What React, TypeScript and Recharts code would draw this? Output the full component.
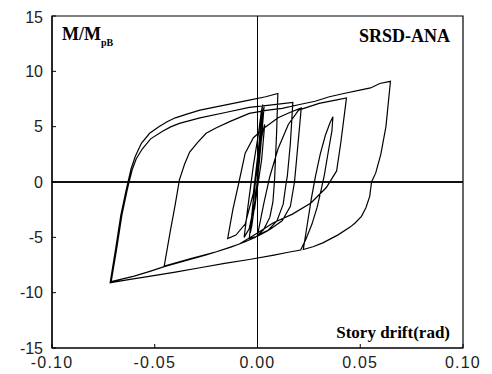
import React from 'react'
import { LineChart, Line, XAxis, YAxis, ReferenceLine, ReferenceArea } from 'recharts'

// [story drift (rad), M/Mpb] pairs, branch by branch, in loading order
type Pt = [number, number]

const smallCycles: Pt[] = [
  [0, 0], [0.001, 2.4], [0.002, 4.6], [0.0025, 5.4], [0.001, 2.0], [-0.001, -1.6],
  [-0.0028, -4.0], [-0.0035, -4.6], [-0.002, -1.5], [0.0, 1.5], [0.0015, 4.5],
  [0.0028, 6.4], [0.0032, 6.8], [0.0015, 3.0], [-0.001, -1.5], [-0.004, -4.2],
  [-0.0065, -5.0], [-0.0045, -2.0], [-0.002, 1.5], [0.0005, 4.4], [0.0018, 6.3],
  [0.0025, 7.0],
]

const firstExcursion: Pt[] = [
  [0.0005, 3.0], [-0.002, -1.0], [-0.006, -3.8], [-0.0105, -4.8], [-0.0145, -5.1],
  [-0.012, -2.5], [-0.009, 0], [-0.006, 2.6], [-0.002, 4.0], [0.0034, 4.9],
  [0.01, 5.8], [0.016, 6.3], [0.0213, 6.7], [0.019, 2.0], [0.018, 0], [0.016, -2.2],
  [0.012, -3.5], [0.006, -4.3], [0.0, -4.8], [0.003, -2.0], [0.006, 0.5], [0.01, 3.0],
  [0.015, 5.2], [0.02, 6.5], [0.03, 7.1], [0.038, 7.4], [0.0433, 7.6],
]

const toMidNegPeak: Pt[] = [
  [0.0405, 3.5], [0.0385, 1.0], [0.0335, -0.5], [0.026, -1.9], [0.017, -2.9],
  [0.0075, -3.7], [0.0, -4.6], [-0.0088, -5.6], [-0.02, -6.3], [-0.032, -6.9],
  [-0.0454, -7.6],
]

const toPosPeak: Pt[] = [
  [-0.0425, -4.5], [-0.04, -2.0], [-0.038, 0.2], [-0.0355, 1.6], [-0.033, 2.7],
  [-0.029, 3.6], [-0.025, 4.4], [-0.02, 4.9], [-0.013, 5.5], [-0.004, 6.2],
  [0.005, 6.5], [0.012, 6.65], [0.0205, 7.0], [0.028, 7.3], [0.035, 7.7],
  [0.042, 8.0], [0.0498, 8.3], [0.055, 8.5], [0.0595, 8.9], [0.0647, 9.1],
]

const fromPosPeak: Pt[] = [
  [0.0625, 5.0], [0.06, 2.5], [0.0575, 0.8], [0.0555, 0], [0.0546, -1.3],
  [0.0528, -2.3], [0.0506, -3.1], [0.0475, -3.7], [0.0449, -4.1], [0.039, -4.8],
  [0.0318, -5.5], [0.027, -5.85], [0.0223, -6.1],
]

const leafAndBigNeg: Pt[] = [
  [0.0245, -3.5], [0.0262, -1.5], [0.0282, 0.5], [0.0305, 2.5], [0.033, 4.2],
  [0.0352, 5.3], [0.0367, 5.9], [0.0362, 4.6], [0.0345, 2.8], [0.0325, 0.6],
  [0.031, -0.7], [0.029, -2.3], [0.0265, -3.8], [0.0235, -5.2], [0.021, -6.15],
  [0.015, -6.35], [0.008, -6.6], [-0.004, -7.0], [-0.016, -7.35], [-0.028, -7.75],
  [-0.04, -8.15], [-0.052, -8.5], [-0.062, -8.8], [-0.0717, -9.1],
]

const reload1: Pt[] = [
  [-0.069, -6.0], [-0.0665, -3.0], [-0.064, -0.8], [-0.063, 0], [-0.0615, 1.2],
  [-0.0595, 2.3], [-0.0565, 3.5], [-0.0525, 4.4], [-0.048, 5.0], [-0.044, 5.45],
  [-0.04, 5.8], [-0.034, 6.15], [-0.028, 6.5], [-0.016, 6.95], [-0.004, 7.4],
  [0.004, 7.7], [0.0099, 8.0],
]

const unload1: Pt[] = [
  [0.0093, 4.5], [0.0085, 1.0], [0.0083, 0.2], [0.0075, -1.8], [0.006, -3.2],
  [0.003, -4.3], [-0.001, -5.0], [-0.006, -5.4], [-0.013, -5.9], [-0.025, -6.6],
  [-0.035, -7.1], [-0.0454, -7.65], [-0.052, -8.05], [-0.06, -8.5], [-0.0712, -9.0],
]

const reload2: Pt[] = [
  [-0.0685, -6.0], [-0.066, -3.0], [-0.0635, -0.8], [-0.0625, 0], [-0.061, 1.1],
  [-0.059, 2.1], [-0.056, 3.0], [-0.052, 3.9], [-0.046, 4.6], [-0.042, 5.0],
  [-0.038, 5.3], [-0.028, 5.8], [-0.015, 6.3], [-0.004, 6.75], [0.006, 6.95],
  [0.0172, 7.2],
]

const tail: Pt[] = [
  [0.016, 3.5], [0.0145, 0.5], [0.014, 0], [0.0125, -2.0], [0.0095, -3.5],
  [0.005, -4.4], [0.0, -4.9], [-0.004, -5.1], [-0.0025, -2.5], [-0.001, 0],
  [0.001, 2.8], [0.0025, 4.5], [0.0035, 5.2], [0.002, 2.0], [0.0, -0.5],
  [-0.0015, -2.5], [-0.001, -1.0], [0.0, 0],
]

const history: Pt[] = [
  ...smallCycles, ...firstExcursion, ...toMidNegPeak, ...toPosPeak, ...fromPosPeak,
  ...leafAndBigNeg, ...reload1, ...unload1, ...reload2, ...tail,
]

const xTicks = [-0.1, -0.05, 0, 0.05, 0.1]
const yTicks = [-15, -10, -5, 0, 5, 10, 15]

const data = history.map(([x, y]) => ({ drift: x, moment: y }))

const tickStyle = { fontFamily: '"Liberation Sans", Arial, sans-serif', fontSize: 16, fill: '#222' }
const serif = '"Liberation Serif", "Times New Roman", serif'

export default function App() {
  return (
    <div style={{ position: 'relative', width: 476, height: 366 }}>
      <LineChart width={476} height={366} data={data} margin={{ top: 8, right: 21, bottom: 0, left: 0 }}>
        <XAxis
          type="number"
          dataKey="drift"
          domain={[-0.1, 0.1]}
          ticks={xTicks}
          tickFormatter={(v: number) => v.toFixed(2)}
          height={26}
          tickSize={-4}
          tickMargin={13}
          tick={{ ...tickStyle, letterSpacing: 1.2 }}
          axisLine={{ stroke: '#000', strokeWidth: 1.2 }}
          tickLine={{ stroke: '#000' }}
          allowDataOverflow
        />
        <YAxis
          type="number"
          domain={[-15, 15]}
          ticks={yTicks}
          width={44}
          tickSize={-4}
          tickMargin={13}
          tick={tickStyle}
          axisLine={{ stroke: '#000', strokeWidth: 1.2 }}
          tickLine={{ stroke: '#000' }}
          allowDataOverflow
        />
        <ReferenceArea x1={-0.1} x2={0.1} y1={-15} y2={15} fill="none" stroke="#000" strokeWidth={1.2} />
        <ReferenceLine y={0} stroke="#111" strokeWidth={2} />
        <ReferenceLine x={0} stroke="#000" strokeWidth={1} />
        <Line
          type="linear"
          dataKey="moment"
          stroke="#000"
          strokeWidth={1.2}
          dot={false}
          isAnimationActive={false}
        />
      </LineChart>
      <svg width={476} height={366} style={{ position: 'absolute', left: 0, top: 0, pointerEvents: 'none' }}>
        <text x={54} y={32} fontFamily={serif} fontSize={18} fontWeight="bold" fill="#000">
          M/M
          <tspan fontSize={10} dy={6}>pB</tspan>
        </text>
        <text x={442} y={34} textAnchor="end" fontFamily={serif} fontSize={18} fontWeight="bold" fill="#000">
          SRSD-ANA
        </text>
        <text x={442} y={330} textAnchor="end" fontFamily={serif} fontSize={17} fontWeight="bold" fill="#000">
          Story drift(rad)
        </text>
      </svg>
    </div>
  )
}
